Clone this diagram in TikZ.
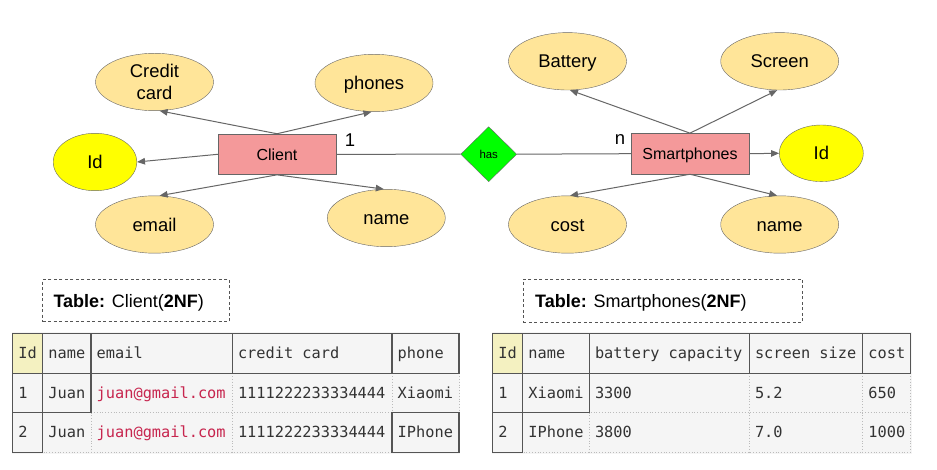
\documentclass[tikz,border=0pt]{standalone}
\usepackage{fontspec}
\setmainfont{Liberation Sans}
\newfontfamily\monof{DejaVu Sans Mono}
\usetikzlibrary{shapes.geometric,arrows.meta}
\definecolor{lnc}{HTML}{666666}
\definecolor{attrc}{HTML}{FFE599}
\definecolor{entc}{HTML}{F4999A}
\definecolor{relc}{HTML}{00FF00}
\definecolor{keyc}{HTML}{FFFF00}
\definecolor{tbg}{HTML}{F5F5F5}
\definecolor{idbg}{HTML}{F4F1C1}
\definecolor{solidc}{HTML}{555555}
\definecolor{dotc}{HTML}{BBBBBB}
\definecolor{txtc}{HTML}{333333}
\definecolor{mailc}{HTML}{C7254E}
\tikzset{
  attrbase/.style={ellipse, draw=lnc, fill=attrc, minimum width=118pt, minimum height=57.4pt,
    inner sep=0pt, font=\fontsize{18.4}{21.5}\selectfont, align=center},
  attr/.style={attrbase, text height=13.2pt, text depth=0pt},
  keyattr/.style={attr, fill=keyc, minimum width=83.6pt},
  entity/.style={rectangle, draw=lnc, fill=entc, minimum width=118pt, minimum height=40.7pt,
    inner sep=0pt, font=\fontsize{16}{19}\selectfont, text height=11.5pt, text depth=0pt},
  rel/.style={diamond, draw=lnc, fill=relc, minimum width=56pt, minimum height=55pt,
    inner sep=0pt, font=\fontsize{11.4}{13}\selectfont, text height=8.2pt, text depth=0pt},
  arr/.style={draw=lnc, line width=1pt, -{Triangle[length=8pt,width=6.5pt]}},
  conn/.style={draw=lnc, line width=1pt},
  card/.style={font=\fontsize{18.5}{20}\selectfont, inner sep=0pt},
  dbox/.style={draw=solidc, line width=1pt, dash pattern=on 3pt off 2.5pt, inner sep=0pt},
  ttl/.style={font=\fontsize{18}{21}\selectfont, inner sep=0pt, anchor=base west},
  cell/.style={font=\monof\fontsize{15.3}{18}\selectfont, text=txtc, inner sep=0pt, anchor=base west},
  solidln/.style={draw=solidc, line width=1.3pt},
  dotln/.style={draw=dotc, line width=0.8pt, dotted},
}
\begin{document}
\begin{tikzpicture}[x=1pt,y=-1pt]
\path[use as bounding box, fill=white] (0,0) rectangle (937,470);

% ---------- ER diagram ----------
\node[attrbase] (cc) at (154.5,82) {Credit\\card};
\node[attr] (phones) at (374,83) {phones};
\node[keyattr] (id1) at (95,162) {Id};
\node[entity] (client) at (277,154.3) {Client};
\node[attr] (email) at (154.5,224.5) {email};
\node[attr] (name1) at (386.3,218) {name};
\node[rel] (has) at (488.7,154.2) {has};
\node[entity] (smart) at (690,153.7) {Smartphones};
\node[attr] (battery) at (567.5,61.3) {Battery};
\node[attr] (screen) at (779.7,61.3) {Screen};
\node[keyattr, minimum width=84pt, minimum height=56.6pt] (id2) at (821.3,153.3) {Id};
\node[attr] (cost) at (567.5,224.5) {cost};
\node[attr] (name2) at (779.7,224.5) {name};

\node[card] (c1) at (350,140) {1};
\node[card] (cn) at (620,139.3) {n};

\draw[arr] (client.north) -- (cc.-80);
\draw[arr] (client.north) -- (phones.-95);
\draw[arr] (client.west) -- (id1.east);
\draw[arr] (client.south) -- (email.80);
\draw[arr] (client.south) -- (name1.95);
\draw[conn] (client.east) -- (has.west);
\draw[conn] (has.east) -- (smart.west);
\draw[arr] (smart.north) -- (battery.-85);
\draw[arr] (smart.north) -- (screen.-95);
\draw[arr] (smart.east) -- (id2.west);
\draw[arr] (smart.south) -- (cost.85);
\draw[arr] (smart.south) -- (name2.95);

% ---------- titles ----------
\node[dbox, minimum width=186.6pt, minimum height=42.4pt] (box1) at (136,300.5) {};
\node[ttl] (t1) at (53.3,307.5) {\textbf{Table:} Client(\textbf{2NF})};
\node[dbox, minimum width=279.4pt, minimum height=43pt] (box2) at (663,300.8) {};
\node[ttl] (t2) at (535,307.5) {\textbf{Table:} Smartphones(\textbf{2NF})};

% ---------- Client table ----------
\fill[tbg] (11.5,332) rectangle (460,454);
\fill[idbg] (12.7,333.3) rectangle (42.7,373.3);
\foreach \x in {42.7,91,232.3,392} \draw[dotln] (\x,373.3) -- (\x,452.7);
\foreach \y in {412.7,452.7} \draw[dotln] (12.7,\y) -- (459,\y);
\draw[dotln] (459,373.3) -- (459,452.7);
\draw[solidln] (12.7,333.3) rectangle (459,373.3);
\foreach \x in {42.7,91,232.3,392} \draw[solidln] (\x,333.3) -- (\x,373.3);
\draw[solidln] (12.7,373.3) rectangle (42.7,452.7);
\draw[solidln] (12.7,412.7) -- (42.7,412.7);
\draw[solidln] (42.7,373.3) rectangle (91,412.7);
\draw[solidln] (392,412.7) rectangle (459,452.7);

\node[cell] (ch1) at (18.2,358.3) {Id};
\node[cell] (ch2) at (48.2,358.3) {name};
\node[cell] (ch3) at (96.5,358.3) {email};
\node[cell] (ch4) at (237.8,358.3) {credit card};
\node[cell] (ch5) at (397.5,358.3) {phone};
\node[cell] (c11) at (18.2,398.3) {1};
\node[cell] (c12) at (48.2,398.3) {Juan};
\node[cell, text=mailc] (c13) at (96.5,398.3) {juan@gmail.com};
\node[cell] (c14) at (237.8,398.3) {1111222233334444};
\node[cell] (c15) at (397.5,398.3) {Xiaomi};
\node[cell] (c21) at (18.2,437.7) {2};
\node[cell] (c22) at (48.2,437.7) {Juan};
\node[cell, text=mailc] (c23) at (96.5,437.7) {juan@gmail.com};
\node[cell] (c24) at (237.8,437.7) {1111222233334444};
\node[cell] (c25) at (397.5,437.7) {IPhone};

% ---------- Smartphones table ----------
\fill[tbg] (491.5,332) rectangle (912,454);
\fill[idbg] (492.7,333.3) rectangle (522.7,373.3);
\foreach \x in {522.7,589.3,749.3,862.7} \draw[dotln] (\x,373.3) -- (\x,452.7);
\foreach \y in {412.7,452.7} \draw[dotln] (492.7,\y) -- (910.7,\y);
\draw[dotln] (910.7,373.3) -- (910.7,452.7);
\draw[solidln] (492.7,333.3) rectangle (910.7,373.3);
\foreach \x in {522.7,589.3,749.3,862.7} \draw[solidln] (\x,333.3) -- (\x,373.3);
\draw[solidln] (492.7,373.3) rectangle (522.7,452.7);
\draw[solidln] (492.7,412.7) -- (522.7,412.7);
\draw[solidln] (522.7,373.3) rectangle (589.3,412.7);

\node[cell] (sh1) at (498.2,358.3) {Id};
\node[cell] (sh2) at (528.2,358.3) {name};
\node[cell] (sh3) at (594.8,358.3) {battery capacity};
\node[cell] (sh4) at (754.8,358.3) {screen size};
\node[cell] (sh5) at (868.2,358.3) {cost};
\node[cell] (s11) at (498.2,398.3) {1};
\node[cell] (s12) at (528.2,398.3) {Xiaomi};
\node[cell] (s13) at (594.8,398.3) {3300};
\node[cell] (s14) at (754.8,398.3) {5.2};
\node[cell] (s15) at (868.2,398.3) {650};
\node[cell] (s21) at (498.2,437.7) {2};
\node[cell] (s22) at (528.2,437.7) {IPhone};
\node[cell] (s23) at (594.8,437.7) {3800};
\node[cell] (s24) at (754.8,437.7) {7.0};
\node[cell] (s25) at (868.2,437.7) {1000};
\end{tikzpicture}
\end{document}
